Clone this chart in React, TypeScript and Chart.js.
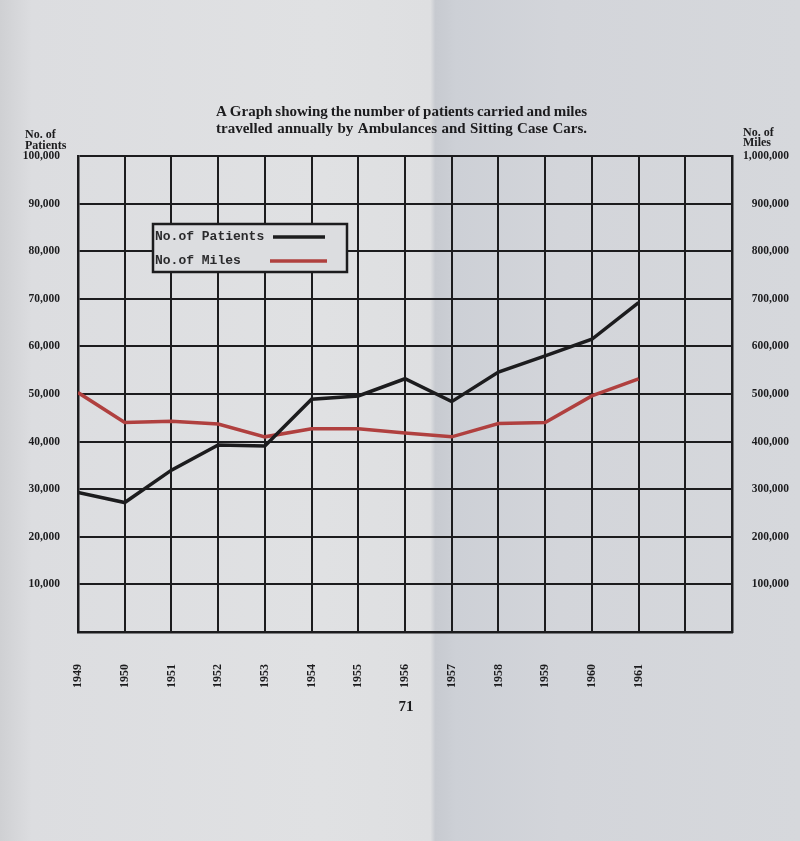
import { useEffect, useRef } from "react"
import { Chart, registerables } from "chart.js"
import type { Plugin } from "chart.js"

Chart.register(...registerables)

// values
const years = [1949, 1950, 1951, 1952, 1953, 1954, 1955, 1956, 1957, 1958, 1959, 1960, 1961]
const patients = [29300, 27200, 34000, 39300, 39100, 48900, 49600, 53200, 48400, 54600, 58000, 61500, 69200]
const miles = [503000, 440000, 443000, 437000, 410000, 427000, 427000, 418000, 410000, 438000, 440000, 496000, 532000]

const titleLines = [
  "A Graph showing the number of patients carried and miles",
  "travelled annually by Ambulances and Sitting Case Cars.",
]
const leftAxisTitle = ["No. of", "Patients"]
const rightAxisTitle = ["No. of", "Miles"]
const pageNumber = "71"

const SERIF = '"Liberation Serif", "DejaVu Serif", serif'
const MONO = '"Liberation Mono", "DejaVu Sans Mono", monospace'
const INK = "#1c1c1e"
const RED = "#b0403f"
const PAPER = "#dcdde0"

// justified two-line heading, side captions, page number
const pageText: Plugin<"line"> = {
  id: "pageText",
  afterDraw(chart) {
    const ctx = chart.ctx
    ctx.save()
    ctx.fillStyle = INK
    ctx.textBaseline = "middle"

    ctx.font = `bold 15px ${SERIF}`
    const left = 216
    const right = 587
    titleLines.forEach((line, i) => {
      const words = line.split(" ")
      const widths = words.map((w) => ctx.measureText(w).width)
      const total = widths.reduce((a, b) => a + b, 0)
      const gap = (right - left - total) / (words.length - 1)
      let x = left
      const y = 112 + i * 17
      words.forEach((w, j) => {
        ctx.textAlign = "left"
        ctx.fillText(w, x, y)
        x += widths[j] + gap
      })
    })

    ctx.font = `bold 12px ${SERIF}`
    ctx.textAlign = "left"
    leftAxisTitle.forEach((t, i) => ctx.fillText(t, 25, 135 + i * 11))
    rightAxisTitle.forEach((t, i) => ctx.fillText(t, 743, 133 + i * 10))

    ctx.font = `bold 15px ${SERIF}`
    ctx.textAlign = "center"
    ctx.fillText(pageNumber, 406, 707)
    ctx.restore()
  },
}

// boxed legend with the line sample after the text
const boxLegend: Plugin<"line"> = {
  id: "boxLegend",
  afterDraw(chart) {
    const ctx = chart.ctx
    ctx.save()
    ctx.fillStyle = PAPER
    ctx.fillRect(153, 224, 194, 48)
    ctx.strokeStyle = INK
    ctx.lineWidth = 2.5
    ctx.strokeRect(153, 224, 194, 48)

    ctx.font = `bold 13px ${MONO}`
    ctx.textBaseline = "middle"
    ctx.textAlign = "left"
    const rows = [
      { y: 237, x1: 273, x2: 325 },
      { y: 261, x1: 270, x2: 327 },
    ]
    chart.data.datasets.forEach((ds, i) => {
      const r = rows[i]
      ctx.fillStyle = "#2a2a2c"
      ctx.fillText(ds.label ?? "", 155, r.y)
      ctx.strokeStyle = ds.borderColor as string
      ctx.lineWidth = 3.5
      ctx.beginPath()
      ctx.moveTo(r.x1, r.y)
      ctx.lineTo(r.x2, r.y)
      ctx.stroke()
    })
    ctx.restore()
  },
}

export default function App() {
  const chartRef = useRef<HTMLCanvasElement>(null)
  const chartInstance = useRef<Chart | null>(null)

  useEffect(() => {
    if (!chartRef.current) return
    const ctx = chartRef.current.getContext("2d")
    if (!ctx) return

    chartInstance.current = new Chart(ctx, {
      type: "line",
      data: {
        datasets: [
          {
            label: "No.of Patients",
            data: years.map((y, i) => ({ x: y, y: patients[i] })),
            borderColor: INK,
            borderWidth: 3.5,
            pointRadius: 0,
            yAxisID: "y",
          },
          {
            label: "No.of Miles",
            data: years.map((y, i) => ({ x: y, y: miles[i] })),
            borderColor: RED,
            borderWidth: 3.5,
            pointRadius: 0,
            yAxisID: "y1",
          },
        ],
      },
      options: {
        animation: false,
        responsive: false,
        layout: { padding: { top: 156, left: 0, right: 11, bottom: 0 } },
        plugins: {
          legend: { display: false },
          tooltip: { enabled: false },
        },
        scales: {
          x: {
            type: "linear",
            min: 1949,
            max: 1963,
            afterFit: (scale) => {
              scale.height = 209
            },
            grid: { color: INK, lineWidth: 2, drawTicks: false },
            border: { color: INK, width: 2.5 },
            ticks: {
              stepSize: 1,
              maxRotation: 90,
              minRotation: 90,
              padding: 32,
              color: INK,
              font: { family: SERIF, size: 12, weight: "bold" },
              callback: (v) => (Number(v) <= 1961 ? String(v) : ""),
            },
          },
          y: {
            position: "left",
            min: 0,
            max: 100000,
            afterFit: (scale) => {
              scale.width = 78
            },
            grid: { color: INK, lineWidth: 2, drawTicks: false },
            border: { color: INK, width: 2.5 },
            ticks: {
              stepSize: 10000,
              padding: 18,
              color: INK,
              font: { family: SERIF, size: 11.5, weight: "bold" },
              callback: (v) => (Number(v) === 0 ? "" : Number(v).toLocaleString("en-US")),
            },
          },
          y1: {
            position: "right",
            min: 0,
            max: 1000000,
            afterFit: (scale) => {
              scale.width = 57
            },
            grid: { display: false, drawTicks: false },
            border: { color: INK, width: 2.5 },
            ticks: {
              stepSize: 100000,
              crossAlign: "far",
              color: INK,
              font: { family: SERIF, size: 11.5, weight: "bold" },
              callback: (v) => (Number(v) === 0 ? "" : Number(v).toLocaleString("en-US")),
            },
          },
        },
      },
      plugins: [pageText, boxLegend],
    })

    return () => {
      if (chartInstance.current) {
        chartInstance.current.destroy()
        chartInstance.current = null
      }
    }
  }, [])

  return (
    <div
      style={{
        position: "absolute",
        left: 0,
        top: 0,
        width: 800,
        height: 841,
        background:
          "linear-gradient(90deg, #cfd0d3 0%, #dcdde0 4%, #e0e1e3 40%, #dedfe1 53.8%, #c7cad0 54.4%, #cdd0d6 57%, #d3d5da 70%, #d6d8dc 100%)",
      }}
    >
      <canvas ref={chartRef} width={800} height={841}></canvas>
    </div>
  )
}
